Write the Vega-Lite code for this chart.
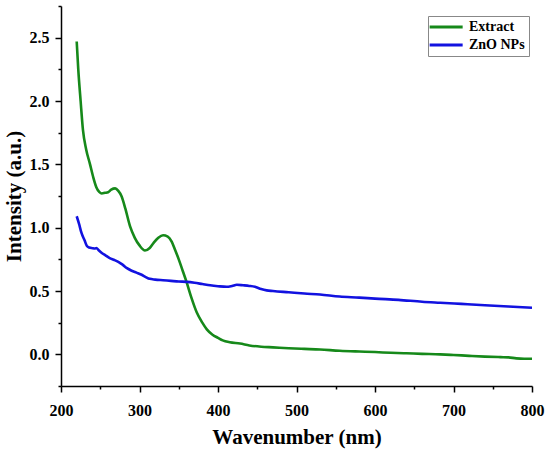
{
  "$schema": "https://vega.github.io/schema/vega-lite/v6.json",
  "width": 471,
  "height": 380,
  "autosize": {"type": "none"},
  "padding": {"left": 61, "top": 6, "right": 18, "bottom": 66},
  "data": {
    "values": [
      {"nm": 220, "v": 2.47, "s": "Extract"},
      {"nm": 222, "v": 2.25, "s": "Extract"},
      {"nm": 225, "v": 2.0, "s": "Extract"},
      {"nm": 228, "v": 1.77, "s": "Extract"},
      {"nm": 232, "v": 1.62, "s": "Extract"},
      {"nm": 237, "v": 1.5, "s": "Extract"},
      {"nm": 241, "v": 1.4, "s": "Extract"},
      {"nm": 245, "v": 1.32, "s": "Extract"},
      {"nm": 249, "v": 1.28, "s": "Extract"},
      {"nm": 252, "v": 1.27, "s": "Extract"},
      {"nm": 256, "v": 1.275, "s": "Extract"},
      {"nm": 260, "v": 1.28, "s": "Extract"},
      {"nm": 264, "v": 1.3, "s": "Extract"},
      {"nm": 269, "v": 1.31, "s": "Extract"},
      {"nm": 273, "v": 1.29, "s": "Extract"},
      {"nm": 277, "v": 1.25, "s": "Extract"},
      {"nm": 282, "v": 1.15, "s": "Extract"},
      {"nm": 288, "v": 1.01, "s": "Extract"},
      {"nm": 294, "v": 0.92, "s": "Extract"},
      {"nm": 300, "v": 0.86, "s": "Extract"},
      {"nm": 307, "v": 0.82, "s": "Extract"},
      {"nm": 313, "v": 0.84, "s": "Extract"},
      {"nm": 318, "v": 0.88, "s": "Extract"},
      {"nm": 324, "v": 0.92, "s": "Extract"},
      {"nm": 330, "v": 0.94, "s": "Extract"},
      {"nm": 336, "v": 0.93, "s": "Extract"},
      {"nm": 341, "v": 0.89, "s": "Extract"},
      {"nm": 345, "v": 0.83, "s": "Extract"},
      {"nm": 350, "v": 0.75, "s": "Extract"},
      {"nm": 355, "v": 0.66, "s": "Extract"},
      {"nm": 360, "v": 0.57, "s": "Extract"},
      {"nm": 366, "v": 0.45, "s": "Extract"},
      {"nm": 373, "v": 0.33, "s": "Extract"},
      {"nm": 380, "v": 0.25, "s": "Extract"},
      {"nm": 386, "v": 0.195, "s": "Extract"},
      {"nm": 393, "v": 0.155, "s": "Extract"},
      {"nm": 400, "v": 0.13, "s": "Extract"},
      {"nm": 406, "v": 0.11, "s": "Extract"},
      {"nm": 415, "v": 0.095, "s": "Extract"},
      {"nm": 428, "v": 0.085, "s": "Extract"},
      {"nm": 440, "v": 0.07, "s": "Extract"},
      {"nm": 455, "v": 0.06, "s": "Extract"},
      {"nm": 470, "v": 0.055, "s": "Extract"},
      {"nm": 490, "v": 0.048, "s": "Extract"},
      {"nm": 510, "v": 0.043, "s": "Extract"},
      {"nm": 530, "v": 0.038, "s": "Extract"},
      {"nm": 555, "v": 0.028, "s": "Extract"},
      {"nm": 580, "v": 0.022, "s": "Extract"},
      {"nm": 600, "v": 0.018, "s": "Extract"},
      {"nm": 620, "v": 0.012, "s": "Extract"},
      {"nm": 640, "v": 0.008, "s": "Extract"},
      {"nm": 660, "v": 0.004, "s": "Extract"},
      {"nm": 683, "v": 0.0, "s": "Extract"},
      {"nm": 700, "v": -0.005, "s": "Extract"},
      {"nm": 720, "v": -0.012, "s": "Extract"},
      {"nm": 740, "v": -0.018, "s": "Extract"},
      {"nm": 760, "v": -0.022, "s": "Extract"},
      {"nm": 770, "v": -0.024, "s": "Extract"},
      {"nm": 780, "v": -0.032, "s": "Extract"},
      {"nm": 790, "v": -0.035, "s": "Extract"},
      {"nm": 800, "v": -0.035, "s": "Extract"},
      {"nm": 220, "v": 1.09, "s": "ZnO NPs"},
      {"nm": 223, "v": 1.03, "s": "ZnO NPs"},
      {"nm": 226, "v": 0.96, "s": "ZnO NPs"},
      {"nm": 230, "v": 0.9, "s": "ZnO NPs"},
      {"nm": 233, "v": 0.855, "s": "ZnO NPs"},
      {"nm": 236, "v": 0.843, "s": "ZnO NPs"},
      {"nm": 240, "v": 0.838, "s": "ZnO NPs"},
      {"nm": 243, "v": 0.835, "s": "ZnO NPs"},
      {"nm": 245, "v": 0.84, "s": "ZnO NPs"},
      {"nm": 248, "v": 0.822, "s": "ZnO NPs"},
      {"nm": 252, "v": 0.8, "s": "ZnO NPs"},
      {"nm": 257, "v": 0.78, "s": "ZnO NPs"},
      {"nm": 262, "v": 0.76, "s": "ZnO NPs"},
      {"nm": 268, "v": 0.745, "s": "ZnO NPs"},
      {"nm": 273, "v": 0.73, "s": "ZnO NPs"},
      {"nm": 278, "v": 0.71, "s": "ZnO NPs"},
      {"nm": 284, "v": 0.68, "s": "ZnO NPs"},
      {"nm": 290, "v": 0.66, "s": "ZnO NPs"},
      {"nm": 296, "v": 0.645, "s": "ZnO NPs"},
      {"nm": 302, "v": 0.63, "s": "ZnO NPs"},
      {"nm": 308, "v": 0.61, "s": "ZnO NPs"},
      {"nm": 313, "v": 0.596, "s": "ZnO NPs"},
      {"nm": 320, "v": 0.59, "s": "ZnO NPs"},
      {"nm": 330, "v": 0.585, "s": "ZnO NPs"},
      {"nm": 340, "v": 0.58, "s": "ZnO NPs"},
      {"nm": 350, "v": 0.575, "s": "ZnO NPs"},
      {"nm": 360, "v": 0.572, "s": "ZnO NPs"},
      {"nm": 370, "v": 0.565, "s": "ZnO NPs"},
      {"nm": 380, "v": 0.555, "s": "ZnO NPs"},
      {"nm": 390, "v": 0.545, "s": "ZnO NPs"},
      {"nm": 400, "v": 0.538, "s": "ZnO NPs"},
      {"nm": 411, "v": 0.533, "s": "ZnO NPs"},
      {"nm": 418, "v": 0.54, "s": "ZnO NPs"},
      {"nm": 424, "v": 0.549, "s": "ZnO NPs"},
      {"nm": 432, "v": 0.545, "s": "ZnO NPs"},
      {"nm": 440, "v": 0.54, "s": "ZnO NPs"},
      {"nm": 447, "v": 0.533, "s": "ZnO NPs"},
      {"nm": 455, "v": 0.515, "s": "ZnO NPs"},
      {"nm": 462, "v": 0.505, "s": "ZnO NPs"},
      {"nm": 470, "v": 0.5, "s": "ZnO NPs"},
      {"nm": 490, "v": 0.49, "s": "ZnO NPs"},
      {"nm": 510, "v": 0.48, "s": "ZnO NPs"},
      {"nm": 530, "v": 0.472, "s": "ZnO NPs"},
      {"nm": 555, "v": 0.456, "s": "ZnO NPs"},
      {"nm": 580, "v": 0.448, "s": "ZnO NPs"},
      {"nm": 600, "v": 0.44, "s": "ZnO NPs"},
      {"nm": 630, "v": 0.43, "s": "ZnO NPs"},
      {"nm": 660, "v": 0.415, "s": "ZnO NPs"},
      {"nm": 683, "v": 0.407, "s": "ZnO NPs"},
      {"nm": 710, "v": 0.398, "s": "ZnO NPs"},
      {"nm": 740, "v": 0.388, "s": "ZnO NPs"},
      {"nm": 770, "v": 0.378, "s": "ZnO NPs"},
      {"nm": 800, "v": 0.368, "s": "ZnO NPs"}
    ]
  },
  "mark": {"type": "line", "strokeWidth": 2.6, "interpolate": "monotone"},
  "encoding": {
    "x": {
      "field": "nm",
      "type": "quantitative",
      "title": "Wavenumber (nm)",
      "scale": {"domain": [200, 800], "nice": false, "zero": false},
      "axis": {
        "values": [200, 250, 300, 350, 400, 450, 500, 550, 600, 650, 700, 750, 800],
        "labelExpr": "datum.value % 100 == 0 ? datum.label : ''",
        "tickSize": {"condition": {"test": "datum.value % 100 != 0", "value": 3}, "value": 6},
        "labelFlush": false,
        "labelPadding": 10,
        "titlePadding": 8
      }
    },
    "y": {
      "field": "v",
      "type": "quantitative",
      "title": "Intensity (a.u.)",
      "scale": {"domain": [-0.25, 2.75], "nice": false, "zero": false},
      "axis": {
        "values": [-0.25, 0, 0.25, 0.5, 0.75, 1, 1.25, 1.5, 1.75, 2, 2.25, 2.5, 2.75],
        "labelExpr": "abs(datum.value * 2 - round(datum.value * 2)) < 0.01 ? format(datum.value, '.1f') : ''",
        "tickSize": {"condition": {"test": "abs(datum.value * 2 - round(datum.value * 2)) > 0.01", "value": 3}, "value": 6},
        "labelFlush": false,
        "labelPadding": 6,
        "titlePadding": 5
      }
    },
    "color": {
      "field": "s",
      "type": "nominal",
      "scale": {"domain": ["Extract", "ZnO NPs"], "range": ["#16891a", "#1212e0"]},
      "legend": {
        "title": null,
        "orient": "none",
        "legendX": 367,
        "legendY": 10,
        "symbolType": "M-1.7,0H4.3",
        "symbolStrokeWidth": 3,
        "symbolSize": 121,
        "labelOffset": 23,
        "labelFont": "Liberation Serif",
        "labelFontWeight": "bold",
        "labelFontSize": 14,
        "labelColor": "#000000",
        "strokeColor": "#888888",
        "padding": 4,
        "rowPadding": 4
      }
    }
  },
  "config": {
    "view": {"stroke": null},
    "axis": {
      "grid": false,
      "domainColor": "#000000",
      "domainWidth": 1.5,
      "tickColor": "#000000",
      "tickWidth": 1.5,
      "labelFont": "Liberation Serif",
      "labelFontWeight": "bold",
      "labelFontSize": 16,
      "labelColor": "#000000",
      "titleFont": "Liberation Serif",
      "titleFontWeight": "bold",
      "titleFontSize": 21,
      "titleColor": "#000000"
    }
  }
}
